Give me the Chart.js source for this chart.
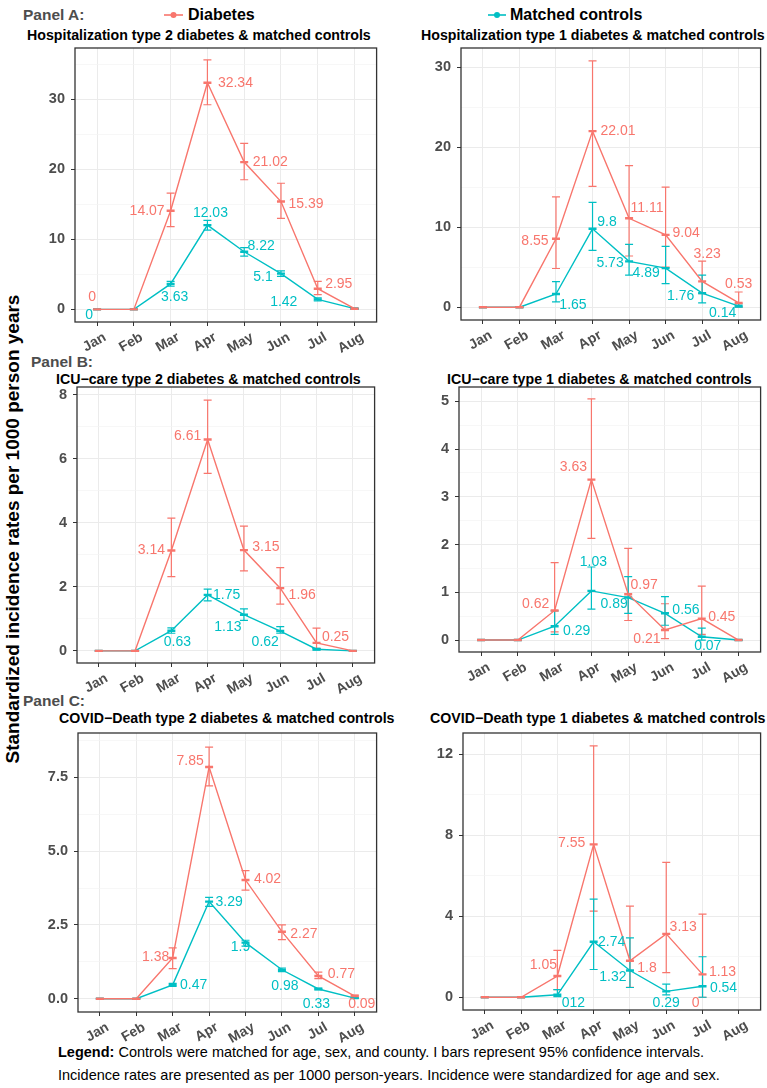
<!DOCTYPE html>
<html>
<head>
<meta charset="utf-8">
<script src="https://cdn.jsdelivr.net/npm/chart.js@4.4.1/dist/chart.umd.min.js"></script>
<style>
  body { margin: 0; background: #fff; width: 767px; height: 1088px; position: relative; overflow: hidden;
         font-family: "Liberation Sans", Arial, sans-serif; }
  .t { position: absolute; white-space: nowrap; line-height: 20px; }
  .panel { font-weight: bold; font-size: 15.5px; color: #4D4D4D; }
  .title { font-weight: bold; font-size: 14.2px; color: #000; }
  .leg { font-weight: bold; font-size: 16px; color: #000; }
  .foot { font-size: 14.5px; color: #000; }
  canvas { position: absolute; }
</style>
</head>
<body>
<div class="t panel" style="left:23px;top:5px">Panel A:</div>
<svg style="position:absolute;left:160px;top:8px" width="28" height="14"><line x1="4" y1="7" x2="23" y2="7" stroke="#F8766D" stroke-width="1.6"/><circle cx="13.5" cy="7" r="3" fill="#F8766D"/></svg>
<div class="t leg" style="left:188px;top:5px">Diabetes</div>
<svg style="position:absolute;left:484px;top:8px" width="28" height="14"><line x1="4" y1="7" x2="22" y2="7" stroke="#00BFC4" stroke-width="1.6"/><circle cx="13" cy="7" r="3" fill="#00BFC4"/></svg>
<div class="t leg" style="left:510px;top:5px">Matched controls</div>

<div class="t title" style="left:27px;top:25px">Hospitalization type 2 diabetes &amp; matched controls</div>
<div class="t title" style="left:421px;top:25px">Hospitalization type 1 diabetes &amp; matched controls</div>
<div class="t panel" style="left:31px;top:352px">Panel B:</div>
<div class="t title" style="left:56px;top:369px">ICU−care type 2 diabetes &amp; matched controls</div>
<div class="t title" style="left:447px;top:369px">ICU−care type 1 diabetes &amp; matched controls</div>
<div class="t panel" style="left:23px;top:691px">Panel C:</div>
<div class="t title" style="left:59px;top:708px">COVID−Death type 2 diabetes &amp; matched controls</div>
<div class="t title" style="left:430px;top:708px">COVID−Death type 1 diabetes &amp; matched controls</div>

<div class="t" style="left:-287px;top:519px;width:600px;text-align:center;font-weight:bold;font-size:19px;transform:rotate(-90deg)">Standardized incidence rates per 1000 person years</div>

<div class="t foot" style="left:58px;top:1042px"><b>Legend:</b> Controls were matched for age, sex, and county. I bars represent 95% confidence intervals.</div>
<div class="t foot" style="left:58px;top:1065px">Incidence rates are presented as per 1000 person-years. Incidence were standardized for age and sex.</div>

<script>
const months = ["Jan", "Feb", "Mar", "Apr", "May", "Jun", "Jul", "Aug"];

// Panel A: hospitalization, type 2
const hospT2Diab = [0, 0, 14.07, 32.34, 21.02, 15.39, 2.95, 0.1];
const hospT2DiabLo = [0, 0, 11.8, 29.2, 18.5, 13.0, 2.1, 0.05];
const hospT2DiabHi = [0, 0, 16.6, 35.6, 23.7, 18.0, 4.0, 0.2];
const hospT2Ctrl = [0, 0, 3.63, 12.03, 8.22, 5.1, 1.42, 0.1];
const hospT2CtrlLo = [0, 0, 3.3, 11.3, 7.6, 4.7, 1.2, 0.05];
const hospT2CtrlHi = [0, 0, 4.0, 12.7, 8.8, 5.5, 1.65, 0.15];
const hospT2DiabLab = ["0", null, "14.07", "32.34", "21.02", "15.39", "2.95", null];
const hospT2CtrlLab = ["0", null, "3.63", "12.03", "8.22", "5.1", "1.42", null];

// Panel A: hospitalization, type 1
const hospT1Diab = [0, 0, 8.55, 22.01, 11.11, 9.04, 3.23, 0.53];
const hospT1DiabLo = [0, 0, 4.84, 15.1, 6.4, 5.0, 1.7, 0];
const hospT1DiabHi = [0, 0, 13.8, 30.8, 17.7, 15.0, 5.75, 1.9];
const hospT1Ctrl = [0, 0, 1.65, 9.8, 5.73, 4.89, 1.76, 0.14];
const hospT1CtrlLo = [0, 0, 0.66, 7.1, 4.0, 2.95, 0.55, 0.02];
const hospT1CtrlHi = [0, 0, 3.2, 13.1, 7.85, 7.6, 4.0, 0.4];
const hospT1DiabLab = [null, null, "8.55", "22.01", "11.11", "9.04", "3.23", "0.53"];
const hospT1CtrlLab = [null, null, "1.65", "9.8", "5.73", "4.89", "1.76", "0.14"];

// Panel B: ICU care, type 2
const icuT2Diab = [0, 0, 3.14, 6.61, 3.15, 1.96, 0.25, 0];
const icuT2DiabLo = [0, 0, 2.32, 5.55, 2.5, 1.46, 0.08, 0];
const icuT2DiabHi = [0, 0, 4.15, 7.84, 3.9, 2.6, 0.71, 0];
const icuT2Ctrl = [0, 0, 0.63, 1.75, 1.13, 0.62, 0.05, 0];
const icuT2CtrlLo = [0, 0, 0.55, 1.56, 0.95, 0.55, 0.02, 0];
const icuT2CtrlHi = [0, 0, 0.72, 1.93, 1.31, 0.76, 0.08, 0];
const icuT2DiabLab = [null, null, "3.14", "6.61", "3.15", "1.96", "0.25", null];
const icuT2CtrlLab = [null, null, "0.63", "1.75", "1.13", "0.62", null, null];

// Panel B: ICU care, type 1
const icuT1Diab = [0, 0, 0.62, 3.36, 0.96, 0.21, 0.45, 0];
const icuT1DiabLo = [0, 0, 0.17, 2.13, 0.41, 0.03, 0.12, 0];
const icuT1DiabHi = [0, 0, 1.62, 5.05, 1.92, 0.76, 1.13, 0];
const icuT1Ctrl = [0, 0, 0.29, 1.03, 0.89, 0.56, 0.07, 0];
const icuT1CtrlLo = [0, 0, 0.12, 0.65, 0.56, 0.31, 0, 0];
const icuT1CtrlHi = [0, 0, 0.61, 1.53, 1.33, 0.91, 0.25, 0];
const icuT1DiabLab = [null, null, "0.62", "3.63", "0.97", "0.21", "0.45", null];
const icuT1CtrlLab = [null, null, "0.29", "1.03", "0.89", "0.56", "0.07", null];

// Panel C: COVID death, type 2
const deathT2Diab = [0, 0, 1.38, 7.85, 4.02, 2.27, 0.77, 0.09];
const deathT2DiabLo = [0, 0, 1.02, 7.21, 3.68, 2.0, 0.68, 0.06];
const deathT2DiabHi = [0, 0, 1.72, 8.52, 4.34, 2.5, 0.9, 0.12];
const deathT2Ctrl = [0, 0, 0.47, 3.29, 1.9, 0.98, 0.33, 0.02];
const deathT2CtrlLo = [0, 0, 0.42, 3.13, 1.78, 0.92, 0.3, 0.01];
const deathT2CtrlHi = [0, 0, 0.52, 3.43, 1.98, 1.04, 0.36, 0.04];
const deathT2DiabLab = [null, null, "1.38", "7.85", "4.02", "2.27", "0.77", "0.09"];
const deathT2CtrlLab = [null, null, "0.47", "3.29", "1.9", "0.98", "0.33", null];

// Panel C: COVID death, type 1 (no August point)
const deathT1Diab = [0, 0, 1.05, 7.55, 1.8, 3.13, 1.13, null];
const deathT1DiabLo = [0, 0, 0.38, 4.25, 0.49, 1.22, 0, null];
const deathT1DiabHi = [0, 0, 2.31, 12.41, 4.5, 6.66, 4.1, null];
const deathT1Ctrl = [0, 0, 0.12, 2.74, 1.32, 0.29, 0.54, null];
const deathT1CtrlLo = [0, 0, 0.03, 1.37, 0.48, 0.12, 0, null];
const deathT1CtrlHi = [0, 0, 0.38, 4.85, 2.93, 0.65, 2.0, null];
const deathT1DiabLab = [null, null, "1.05", "7.55", "1.8", "3.13", "1.13", null];
const deathT1CtrlLab = [null, null, "012", "2.74", "1.32", "0.29", "0.54", null];

const RED = "#F8766D", TEAL = "#00BFC4";
const FONT = "'Liberation Sans', Arial, sans-serif";
const YW = 50, PADT = 12, PADR = 2, XH = 52;

// label offsets (px from the point) for each panel/series
const panels = [
  { box: [75, 48, 381, 322], y: [-1.8, 37.3, 10, 5], dec: 0,
    series: [
      { v: hospT2Diab, lo: hospT2DiabLo, hi: hospT2DiabHi, lab: hospT2DiabLab, color: RED,
        pos: [[-5, -12], null, [-23.5, 0], [28, 0], [26, 0], [25, 3], [21, -5], null] },
      { v: hospT2Ctrl, lo: hospT2CtrlLo, hi: hospT2CtrlHi, lab: hospT2CtrlLab, color: TEAL,
        pos: [[-8, 6], null, [4, 13], [3, -12], [17, -6], [-18, 3], [-34, 3], null] }
    ] },
  { box: [461, 48, 765, 320], y: [-1.6, 32.4, 10, 5], dec: 0,
    series: [
      { v: hospT1Diab, lo: hospT1DiabLo, hi: hospT1DiabHi, lab: hospT1DiabLab, color: RED,
        pos: [null, null, [-21, 2], [25.5, 0], [18, -10], [20.5, -2], [5, -27], [0, -18.5]] },
      { v: hospT1Ctrl, lo: hospT1CtrlLo, hi: hospT1CtrlHi, lab: hospT1CtrlLab, color: TEAL,
        pos: [null, null, [17, 11], [14.5, -7], [-19, 2], [-19.5, 5.5], [-21.5, 3], [-16, 7]] }
    ] },
  { box: [77, 387, 379, 663], y: [-0.38, 8.25, 2, 1], dec: 0,
    series: [
      { v: icuT2Diab, lo: icuT2DiabLo, hi: icuT2DiabHi, lab: icuT2DiabLab, color: RED,
        pos: [null, null, [-20, 0], [-20, -3.5], [22, -3], [22, 7], [19, -6], null] },
      { v: icuT2Ctrl, lo: icuT2CtrlLo, hi: icuT2CtrlHi, lab: icuT2CtrlLab, color: TEAL,
        pos: [null, null, [6, 11.5], [19, 0], [-16, 12], [-15, 11], null, null] }
    ] },
  { box: [459, 387, 765, 652], y: [-0.25, 5.3, 1, 0.5], dec: 0,
    series: [
      { v: icuT1Diab, lo: icuT1DiabLo, hi: icuT1DiabHi, lab: icuT1DiabLab, color: RED,
        pos: [null, null, [-19, -6], [-18, -12], [16, -9], [-18, 9], [20, -1], null] },
      { v: icuT1Ctrl, lo: icuT1CtrlLo, hi: icuT1CtrlHi, lab: icuT1CtrlLab, color: TEAL,
        pos: [null, null, [22, 4.5], [2, -29], [-14, 7], [21, -3], [6, 9], null] }
    ] },
  { box: [78, 733, 381, 1012], y: [-0.45, 9.0, 2.5, 1.25], dec: 1,
    series: [
      { v: deathT2Diab, lo: deathT2DiabLo, hi: deathT2DiabHi, lab: deathT2DiabLab, color: RED,
        pos: [null, null, [-17, -1], [-19, -6], [22, -1], [22, 2], [23, -2], [7, 8]] },
      { v: deathT2Ctrl, lo: deathT2CtrlLo, hi: deathT2CtrlHi, lab: deathT2CtrlLab, color: TEAL,
        pos: [null, null, [21, 0], [20, 1], [-5, 5], [3, 16], [-2, 15], null] }
    ] },
  { box: [463, 733, 765, 1010], y: [-0.63, 13.05, 4, 2], dec: 0,
    series: [
      { v: deathT1Diab, lo: deathT1DiabLo, hi: deathT1DiabHi, lab: deathT1DiabLab, color: RED,
        pos: [null, null, [-14, -11], [-22, -1], [17, 7], [17, -7], [20, -2], null],
        extra: [{ i: 6, text: "0", dx: -7, dy: 29 }] },
      { v: deathT1Ctrl, lo: deathT1CtrlLo, hi: deathT1CtrlHi, lab: deathT1CtrlLab, color: TEAL,
        pos: [null, null, [16, 8], [18, 0], [-17, 7], [0, 12], [21, 2], null] }
    ] }
];

function isMajor(v, step) {
  return Math.abs(v / step - Math.round(v / step)) < 1e-6;
}

const panelPlugin = {
  id: "panelExtras",
  beforeDatasetsDraw(chart) {
    const p = chart.options.plugins.panelExtras.p;
    const ctx = chart.ctx, x = chart.scales.x, y = chart.scales.y;
    ctx.save();
    ctx.lineWidth = 1.2;
    p.series.forEach(s => {
      ctx.strokeStyle = s.color;
      s.v.forEach((v, i) => {
        if (v === null) return;
        const px = x.getPixelForValue(i + 1);
        const y1 = y.getPixelForValue(s.lo[i]), y2 = y.getPixelForValue(s.hi[i]);
        ctx.beginPath();
        ctx.moveTo(px, y1); ctx.lineTo(px, y2);
        ctx.moveTo(px - 4, y1); ctx.lineTo(px + 4, y1);
        ctx.moveTo(px - 4, y2); ctx.lineTo(px + 4, y2);
        ctx.stroke();
      });
    });
    ctx.restore();
  },
  afterDatasetsDraw(chart) {
    const p = chart.options.plugins.panelExtras.p;
    const ctx = chart.ctx, x = chart.scales.x, y = chart.scales.y;
    ctx.save();
    ctx.font = "14px " + FONT;
    ctx.textAlign = "center";
    ctx.textBaseline = "middle";
    p.series.forEach(s => {
      ctx.fillStyle = s.color;
      s.v.forEach((v, i) => {
        if (v === null || !s.lab[i] || !s.pos[i]) return;
        ctx.fillText(s.lab[i], x.getPixelForValue(i + 1) + s.pos[i][0], y.getPixelForValue(v) + s.pos[i][1]);
      });
      (s.extra || []).forEach(e => {
        ctx.fillText(e.text, x.getPixelForValue(e.i + 1) + e.dx, y.getPixelForValue(s.v[e.i]) + e.dy);
      });
    });
    ctx.restore();
  },
  afterDraw(chart) {
    const a = chart.chartArea, ctx = chart.ctx;
    ctx.save();
    ctx.strokeStyle = "#333";
    ctx.lineWidth = 1.3;
    ctx.strokeRect(a.left, a.top, a.right - a.left, a.bottom - a.top);
    ctx.restore();
  }
};

panels.forEach(p => {
  const [pl, pt, pr, pb] = p.box;
  const [ymin, ymax, major, minor] = p.y;
  const cv = document.createElement("canvas");
  cv.width = pr - pl + YW + PADR;
  cv.height = pb - pt + PADT + XH;
  cv.style.left = (pl - YW) + "px";
  cv.style.top = (pt - PADT) + "px";
  document.body.appendChild(cv);

  new Chart(cv, {
    type: "line",
    data: {
      datasets: p.series.map(s => ({
        data: s.v.map((v, i) => ({ x: i + 1, y: v })),
        borderColor: s.color,
        backgroundColor: s.color,
        borderWidth: 1.4,
        pointStyle: "line",
        pointRadius: 4,
        pointBorderWidth: 2.4,
        pointHoverRadius: 0,
        spanGaps: false
      }))
    },
    options: {
      responsive: false,
      animation: false,
      devicePixelRatio: 1,
      events: [],
      layout: { padding: { top: PADT, right: PADR, left: 0, bottom: 0 } },
      plugins: { legend: { display: false }, tooltip: { enabled: false }, panelExtras: { p } },
      scales: {
        x: {
          type: "linear", min: 0.4, max: 8.6,
          afterBuildTicks: sc => { sc.ticks = months.map((m, i) => ({ value: i + 1 })); },
          afterFit: sc => { sc.height = XH; sc.paddingLeft = 0; sc.paddingRight = 0; },
          border: { display: false },
          grid: { color: "#EBEBEB", lineWidth: 1, tickLength: 4, tickColor: "#333" },
          ticks: {
            callback: v => months[Math.round(v) - 1],
            autoSkip: false, minRotation: 30, maxRotation: 30, padding: 3, labelOffset: 8,
            color: "#4D4D4D", font: { family: FONT, size: 14, weight: "bold" }
          }
        },
        y: {
          min: ymin, max: ymax,
          afterBuildTicks: sc => {
            const t = [];
            for (let v = 0; v <= ymax + 1e-9; v += minor) t.push({ value: +v.toFixed(6) });
            sc.ticks = t;
          },
          afterFit: sc => { sc.width = YW; sc.paddingTop = 0; sc.paddingBottom = 0; },
          border: { display: false },
          grid: {
            color: c => isMajor(c.tick.value, major) ? "#EBEBEB" : "#F3F3F3",
            lineWidth: c => isMajor(c.tick.value, major) ? 1 : 0.7,
            tickColor: c => isMajor(c.tick.value, major) ? "#333" : "rgba(0,0,0,0)",
            tickLength: 4
          },
          ticks: {
            callback: v => isMajor(v, major) ? v.toFixed(p.dec) : "",
            padding: 6, color: "#4D4D4D", font: { family: FONT, size: 14.5, weight: "bold" }
          }
        }
      }
    },
    plugins: [panelPlugin]
  });
});
</script>
</body>
</html>
